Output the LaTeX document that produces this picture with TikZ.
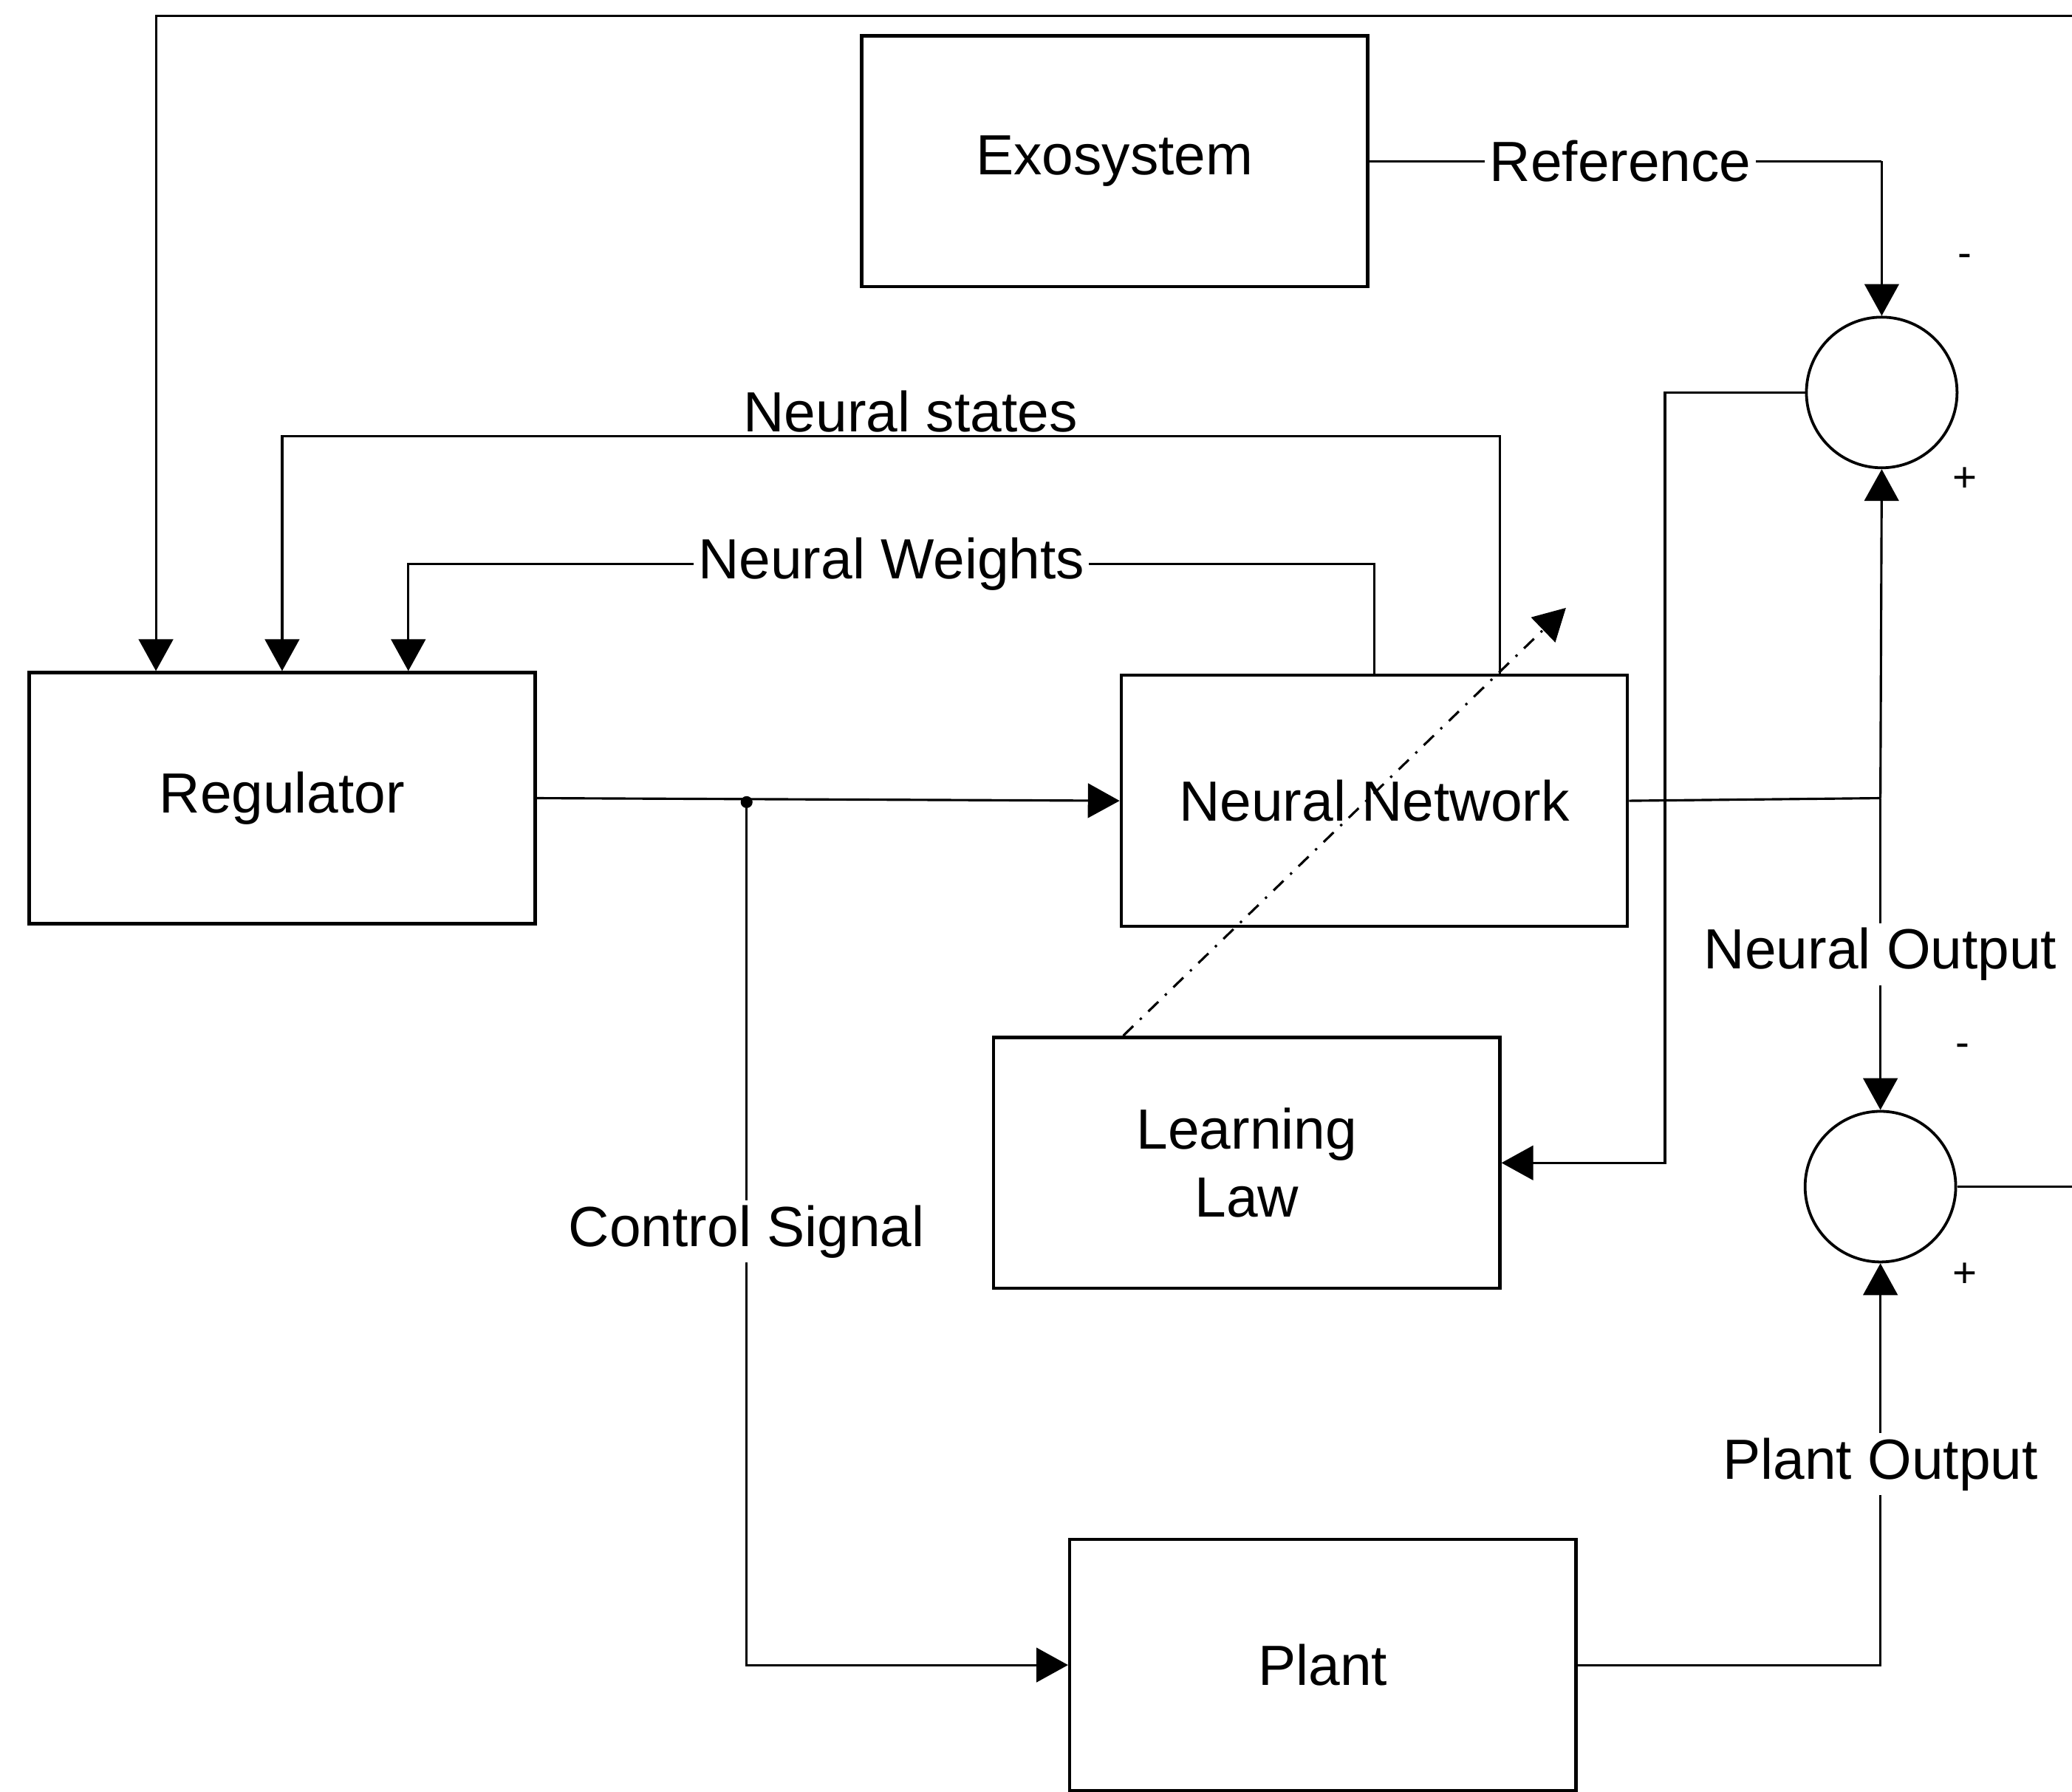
\documentclass[tikz,border=0pt]{standalone}
\usepackage{fontspec}
\setmainfont{Liberation Sans}
\usepackage{tikz}
\usetikzlibrary{arrows.meta, positioning, calc}

\tikzset{
  block/.style={draw, line width=0.7pt, minimum width=3.83cm, minimum height=1.9cm, align=center},
  sumnode/.style={draw, circle, line width=0.6pt, minimum size=1.14cm, inner sep=0pt},
  wire/.style={line width=0.5pt},
  arr/.style={wire, -{Triangle[length=0.24cm, width=0.26cm]}},
  tag/.style={fill=white, inner sep=1pt},
  sign/.style={font=\fontsize{9}{10}\selectfont, inner sep=0pt}
}

\begin{document}
\begin{tikzpicture}[font=\fontsize{12.2}{14.6}\selectfont]
  \useasboundingbox (0,0) rectangle (15.68,-13.56);

  \node[block] (exo) at (8.435,-1.22) {Exosystem};
  \node[block] (reg) at (2.135,-6.04) {Regulator};
  \node[block] (nn) at (10.40,-6.06) {Neural Network};
  \node[block] (law) at (9.435,-8.80) {Learning\\Law};
  \node[block] (plant) at (10.01,-12.60) {Plant};

  \node[sumnode] (sum1) at (14.24,-2.97) {};
  \node[sumnode] (sum2) at (14.23,-8.98) {};
  \node[sign] (s1m) at (14.87,-1.97) {-};
  \node[sign] (s1p) at (14.87,-3.63) {+};
  \node[sign] (s2m) at (14.85,-7.95) {-};
  \node[sign] (s2p) at (14.87,-9.65) {+};

  \coordinate (fbin) at (15.68,-0.12);
  \coordinate (fbout) at (15.68,-8.98);
  \coordinate (split) at (5.65,-6.04);
  \coordinate (nnout) at (14.23,-6.04);
  \coordinate (errbend) at (12.60,-2.97);
  \coordinate (lawtip) at (11.85,-4.60);

  \draw[arr] (fbin) -| ([xshift=-0.955cm]reg.north);
  \draw[wire] (sum2.east) -- (fbout);

  \draw[wire] (exo.east) -- node[pos=0.49, tag] (ref) {Reference} (exo.east -| sum1);
  \draw[arr] (exo.east -| sum1) -- (sum1.north);

  \draw[arr] ([xshift=0.95cm]nn.north) |- node[pos=0.742, above=0.5pt, inner sep=0pt] (nstates) {Neural states} (reg.north |- 0,-3.30) -- (reg.north);
  \draw[arr] (nn.north) |- node[pos=0.75, tag] (nweights) {Neural Weights} ([xshift=0.955cm]reg.north |- 0,-4.27) -- ([xshift=0.955cm]reg.north);

  \draw[arr] (reg.east) -- (nn.west);
  \fill (split) ++(0,-0.03) circle (0.045);
  \draw[arr] (split) |- node[pos=0.25, tag] (ctrl) {Control Signal} (plant.west);

  \draw[wire] (nn.east) -- (nnout);
  \draw[arr] (nnout) -- (sum1.south);
  \draw[arr] (nnout) -- node[pos=0.5, tag] (nout) {Neural Output} (sum2.north);

  \draw[arr] (sum1.west) -- (errbend) |- (law.east);

  \draw[arr] (plant.east) -| node[pos=0.75, tag] (pout) {Plant Output} (sum2.south);

  \draw[arr, dash dot] ([xshift=-0.935cm]law.north) -- (lawtip);
\end{tikzpicture}
\end{document}
